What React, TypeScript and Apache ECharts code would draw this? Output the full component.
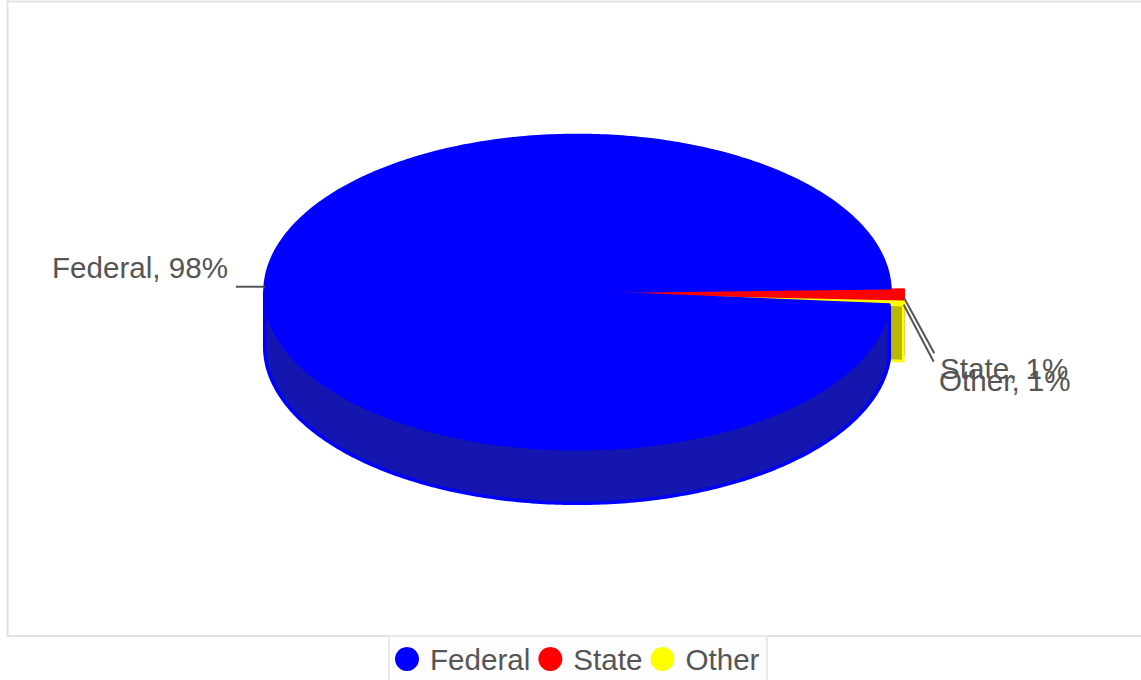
import React, { useEffect, useRef } from "react";
import * as echarts from "echarts";

const categories = ["Federal", "State", "Other"];
const shares = [98.3, 1.1, 0.6];
const topColors = ["#0000ff", "#ff0000", "#ffff00"];
const sideColors = ["#1515b0", "#b80000", "#b8b800"];

const FONT = '"Liberation Sans", Arial, sans-serif';
const TEXT = "#555555";
const FONT_SIZE = 29.6;
const CX = 577.5;
const CY = 292;
const RX = 312.8;
const RY = 156.8;
const sliceOrder = [1, 2, 0]; // State, Other, Federal
const START_DEG = -1.5; // where State begins, clockwise from 3 o'clock
const depths = [54.5, 55.5, 55.5];
const explodeX = [0, 14, 14];
const explodeY = [0, 1, 1];
const sideZ = [5, 2, 3];
const topZ = [8, 7, 6];
const topWidth = [3, 1.5, 1.5];
const sideWidth = [3.5, 1, 2.6];
const leaderDX = [-29, 30, 30];
const leaderDY = [0, 55, 57];
const leaderStartDY = [-1, 4, 2];
const labelX = [228, 940, 939];
const labelY = [267, 368, 380];
const labelAlign = ["right", "left", "left"];

const total = shares.reduce((a, b) => a + b, 0);
const rad = (d: number) => (d * Math.PI) / 180;

function sliceAngles(i: number) {
  let a = START_DEG;
  for (const k of sliceOrder) {
    const span = (shares[k] / total) * 360;
    if (k === i) return [a, a + span];
    a += span;
  }
  return [a, a];
}

function arc(cx: number, cy: number, a0: number, a1: number) {
  const pts: number[][] = [];
  const n = Math.max(2, Math.ceil(Math.abs(a1 - a0) / 0.75));
  for (let s = 0; s <= n; s++) {
    const t = rad(a0 + ((a1 - a0) * s) / n);
    pts.push([cx + RX * Math.cos(t), cy + RY * Math.sin(t)]);
  }
  return pts;
}

function renderSlice(i: number) {
  return (_params: any, api: any) => {
    api.value(0);
    const [a0, a1] = sliceAngles(i);
    const cx = CX + explodeX[i];
    const cy = CY + explodeY[i];
    const depth = depths[i];
    const children: any[] = [];

    // outer wall: only the part of the rim facing the viewer, plus the cut face
    const wallStart = Math.max(a0, 0);
    const wallEnd = Math.min(a1, 180);
    const front = arc(cx, cy, wallStart, wallEnd);
    const wall =
      i === 0
        ? [...front, ...arc(cx, cy + depth, wallEnd, wallStart)]
        : [...front, ...arc(cx, cy + depth, wallEnd, wallEnd), [cx, cy + depth], [cx, cy]];
    children.push({
      type: "polygon",
      z2: sideZ[i],
      shape: { points: wall },
      style: { fill: sideColors[i], stroke: topColors[i], lineWidth: sideWidth[i], lineJoin: "round" },
    });

    // top face
    children.push({
      type: "polygon",
      z2: topZ[i],
      shape: { points: [[cx, cy], ...arc(cx, cy, a0, a1)] },
      style: { fill: topColors[i], stroke: topColors[i], lineWidth: topWidth[i], lineJoin: "round" },
    });

    // leader line and label
    const mid = rad((a0 + a1) / 2);
    const ax = cx + RX * Math.cos(mid);
    const ay = cy + RY * Math.sin(mid) + leaderStartDY[i];
    children.push({
      type: "line",
      z2: 20,
      shape: { x1: ax, y1: ay, x2: ax + leaderDX[i], y2: ay + leaderDY[i] },
      style: { stroke: "#555555", lineWidth: 2, fill: "none" },
    });
    children.push({
      type: "text",
      z2: 21 + i,
      x: labelX[i],
      y: labelY[i],
      style: {
        text: `${categories[i]}, ${Math.round((shares[i] / total) * 100)}%`,
        fill: TEXT,
        fontFamily: FONT,
        fontSize: FONT_SIZE,
        align: labelAlign[i],
        verticalAlign: "middle",
      },
    });
    return { type: "group", children };
  };
}

export default function App() {
  const ref = useRef<HTMLDivElement>(null);
  useEffect(() => {
    const chart = echarts.init(ref.current!, undefined, { renderer: "svg" });
    chart.setOption({
      animation: false,
      backgroundColor: "#ffffff",
      color: topColors,
      legend: {
        data: categories,
        left: 395,
        top: 644,
        padding: 0,
        itemWidth: 24,
        itemHeight: 24,
        itemGap: 8,
        icon: "circle",
        selectedMode: false,
        textStyle: { color: TEXT, fontFamily: FONT, fontSize: FONT_SIZE, padding: [0, 0, 0, 6] },
      },
      graphic: [
        {
          type: "rect",
          z: -10,
          silent: true,
          shape: { x: 7.5, y: 1.5, width: 1200, height: 634.5 },
          style: { fill: "#ffffff", stroke: "#e3e3e3", lineWidth: 2 },
        },
        {
          type: "rect",
          z: -9,
          silent: true,
          shape: { x: 389, y: 636, width: 378, height: 60 },
          style: { fill: "#fdfdfd", stroke: "#e8e8e8", lineWidth: 2 },
        },
      ],
      series: categories.map((name, i) => ({
        type: "custom",
        name,
        coordinateSystem: "none",
        silent: true,
        itemStyle: { color: topColors[i] },
        renderItem: renderSlice(i),
        data: [[shares[i]]],
      })),
    });
    return () => chart.dispose();
  }, []);
  return <div ref={ref} style={{ position: "fixed", left: 0, top: 0, width: 1141, height: 680 }} />;
}
